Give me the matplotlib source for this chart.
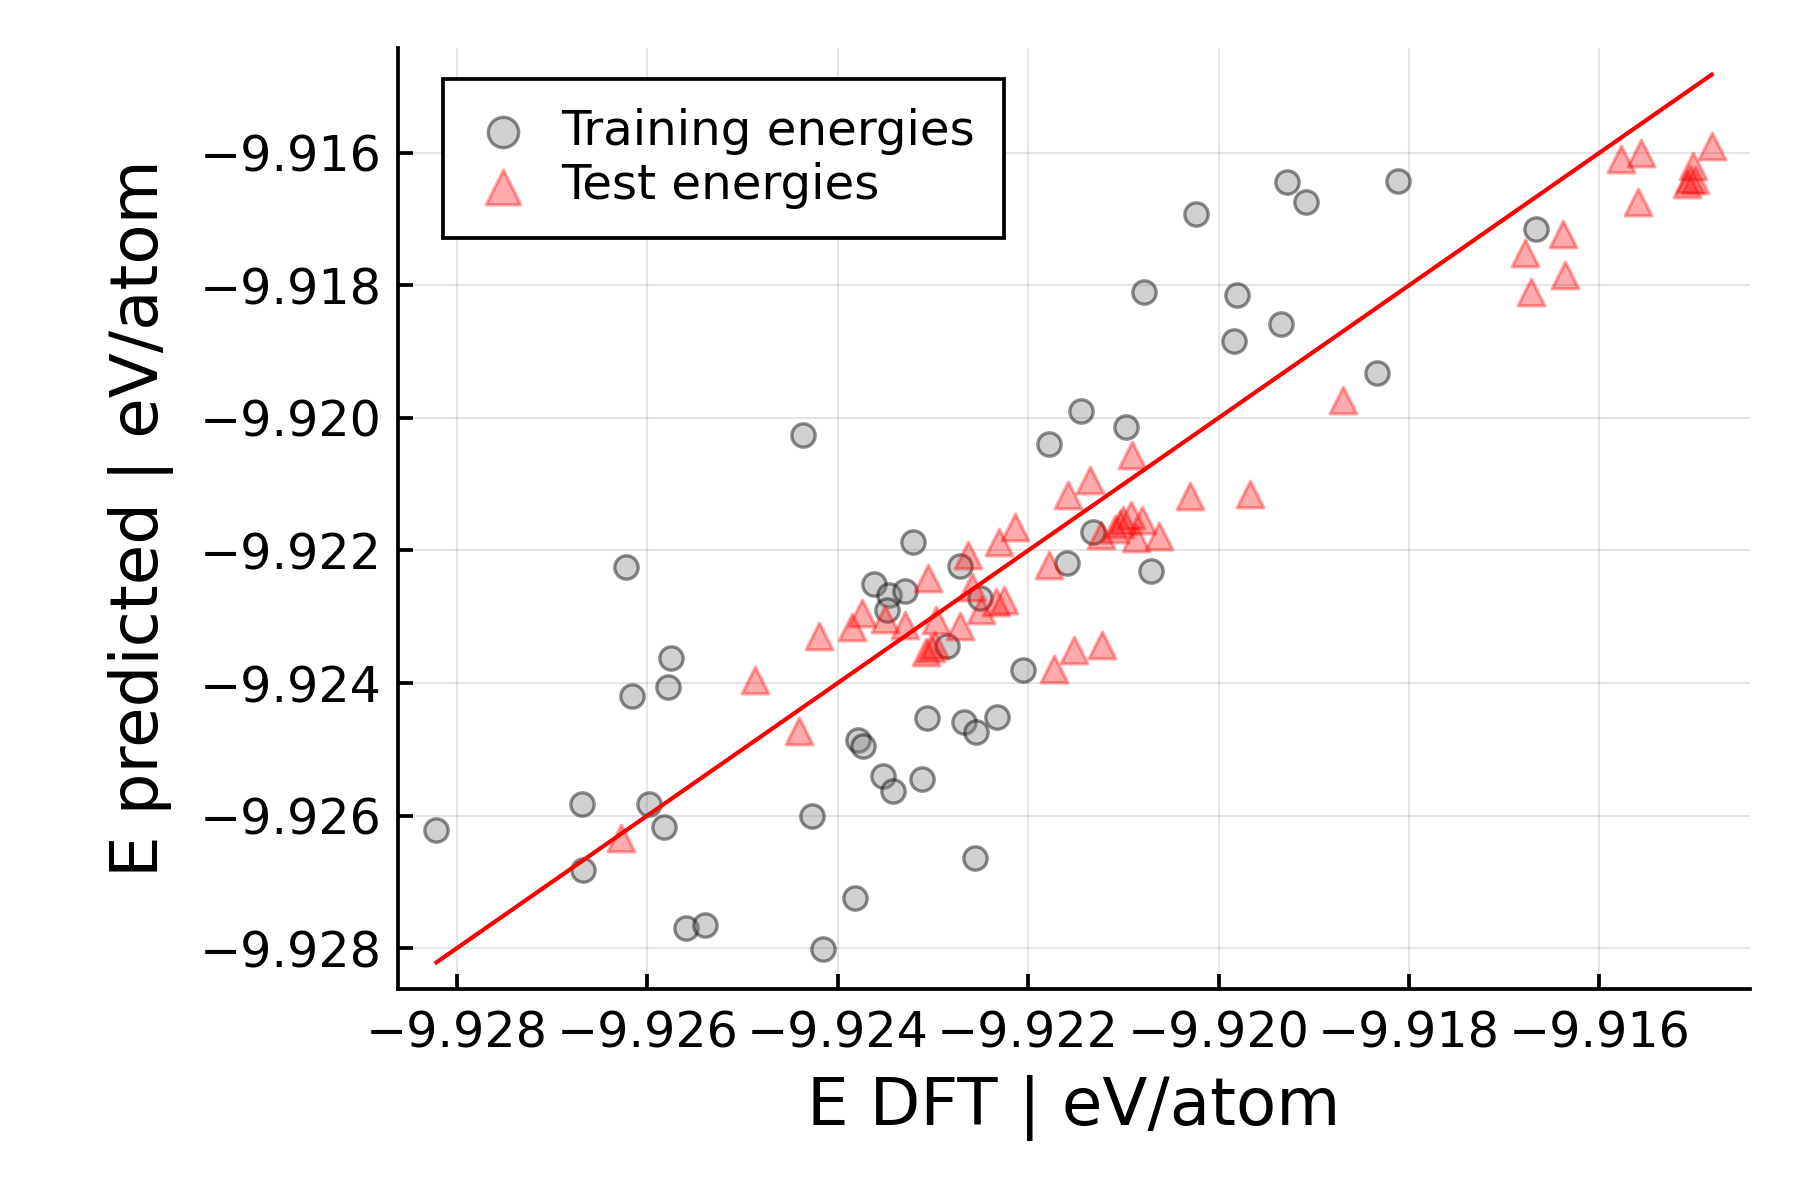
import matplotlib
matplotlib.use("Agg")
import matplotlib.pyplot as plt
import numpy as np

# Training energies (E DFT, E predicted) in eV/atom
train_dft = [-9.928216, -9.926684, -9.926678, -9.926223, -9.926159, -9.925984, -9.925821,
             -9.925786, -9.925751, -9.925593, -9.925390, -9.924370, -9.924267, -9.924159,
             -9.923816, -9.923792, -9.923731, -9.923617, -9.923522, -9.923459, -9.923483,
             -9.923424, -9.923294, -9.923215, -9.923120, -9.923068, -9.922848, -9.922714,
             -9.922679, -9.922556, -9.922547, -9.922501, -9.922330, -9.922053, -9.921781,
             -9.921588, -9.921445, -9.921321, -9.920976, -9.920784, -9.920706, -9.920235,
             -9.919839, -9.919811, -9.919339, -9.919276, -9.919084, -9.918335, -9.918116,
             -9.916664]
train_pred = [-9.926213, -9.925820, -9.926827, -9.922251, -9.924199, -9.925830, -9.926168,
              -9.924059, -9.923620, -9.927704, -9.927653, -9.920253, -9.926002, -9.928016,
              -9.927241, -9.924860, -9.924953, -9.922513, -9.925397, -9.922679, -9.922905,
              -9.925634, -9.922619, -9.921870, -9.925447, -9.924530, -9.923435, -9.922237,
              -9.924591, -9.926646, -9.924733, -9.922714, -9.924506, -9.923806, -9.920392,
              -9.922185, -9.919899, -9.921723, -9.920142, -9.918097, -9.922303, -9.916929,
              -9.918842, -9.918139, -9.918586, -9.916445, -9.916738, -9.919321, -9.916426,
              -9.917151]

# Test energies (E DFT, E predicted) in eV/atom
test_dft = [-9.926282, -9.924874, -9.924411, -9.924194, -9.923850, -9.923750, -9.923509,
            -9.923294, -9.923050, -9.922973, -9.922715, -9.922628, -9.922585, -9.922497,
            -9.922335, -9.922258, -9.922308, -9.922142, -9.921784, -9.921577, -9.921347,
            -9.920905, -9.920305, -9.919674, -9.921231, -9.921085, -9.921039, -9.921008,
            -9.920915, -9.920801, -9.920864, -9.920630, -9.921728, -9.921516, -9.921220,
            -9.923069, -9.923021, -9.922979, -9.918698, -9.916778, -9.916719, -9.916379,
            -9.916366, -9.915775, -9.915565, -9.915589, -9.914820, -9.915013, -9.914994,
            -9.915081, -9.915050]
test_pred = [-9.926343, -9.923962, -9.924717, -9.923296, -9.923158, -9.922939, -9.923031,
             -9.923125, -9.922411, -9.923050, -9.923137, -9.922062, -9.922546, -9.922905,
             -9.922783, -9.922754, -9.921868, -9.921640, -9.922220, -9.921161, -9.920934,
             -9.920555, -9.921179, -9.921154, -9.921763, -9.921674, -9.921596, -9.921539,
             -9.921466, -9.921539, -9.921809, -9.921778, -9.923787, -9.923503, -9.923425,
             -9.923534, -9.923477, -9.923425, -9.919733, -9.917518, -9.918107, -9.917232,
             -9.917846, -9.916094, -9.916009, -9.916749, -9.915893, -9.916194, -9.916411,
             -9.916471, -9.916388]

tick_values = [-9.928, -9.926, -9.924, -9.922, -9.920, -9.918, -9.916]
tick_labels = ["\u22129.928", "\u22129.926", "\u22129.924", "\u22129.922",
               "\u22129.920", "\u22129.918", "\u22129.916"]

fig = plt.figure(figsize=(6, 4), dpi=300)
ax = fig.add_axes([0.2212, 0.1758, 0.7510, 0.7842])

ax.scatter(train_dft, train_pred, s=5.6**2, marker="o",
           facecolor=(0.5, 0.5, 0.5, 0.37), edgecolor=(0, 0, 0, 0.45),
           linewidths=0.8, label="Training energies", zorder=3)
ax.scatter(test_dft, test_pred, s=6.4**2, marker="^",
           facecolor=(1, 0, 0, 0.33), edgecolor=(1, 0, 0, 0.35),
           linewidths=0.8, label="Test energies", zorder=3)

lo, hi = min(train_dft + test_dft), max(train_dft + test_dft)
ax.plot([lo, hi], [lo, hi], color="red", lw=1.0, zorder=4)

span = hi - lo
ax.set_xlim(lo - 0.03 * span, hi + 0.03 * span)
ax.set_ylim(lo - 0.03 * span, hi + 0.03 * span)

ax.set_xticks(tick_values)
ax.set_xticklabels(tick_labels)
ax.set_yticks(tick_values)
ax.set_yticklabels(tick_labels)

for side in ["top", "right"]:
    ax.spines[side].set_visible(False)
for side in ["left", "bottom"]:
    ax.spines[side].set_linewidth(0.9)
    ax.spines[side].set_color("black")

ax.tick_params(direction="in", length=3.6, width=0.9, labelsize=11.8, colors="black")
ax.tick_params(axis="x", pad=5)
ax.tick_params(axis="y", pad=4)
ax.grid(True, color="black", alpha=0.1, lw=0.5)
ax.set_axisbelow(True)

ax.set_xlabel("E DFT | eV/atom", fontsize=15.8, labelpad=4)
ax.set_ylabel("E predicted | eV/atom", fontsize=15.8, labelpad=6)

leg = ax.legend(loc="upper left", bbox_to_anchor=(0.033, 0.967), borderaxespad=0,
                fontsize=11.6, fancybox=False, framealpha=1, edgecolor="black",
                handletextpad=0.55, borderpad=0.6, labelspacing=0.15,
                handlelength=1.3, markerscale=1.3)
leg.get_frame().set_linewidth(0.9)

fig.savefig("out.png", dpi=300)
